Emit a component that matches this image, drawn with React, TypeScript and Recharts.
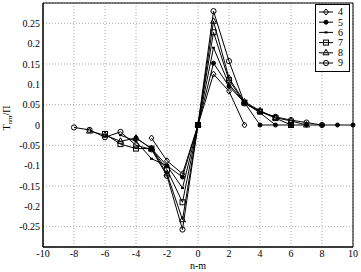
import React from 'react';
import { LineChart, Line, XAxis, YAxis, CartesianGrid, ReferenceArea } from 'recharts';

// n-m positions and T_nm/Pi values per series (n = 4..9)
const X4 = [-3, -2, -1, 0, 1, 2, 3];
const Y4 = [-0.032, -0.088, -0.12, 0, 0.125, 0.083, 0];

const X5 = [-4, -3, -2, -1, 0, 1, 2, 3, 4, 5, 6, 7, 8, 9, 10];
const Y5 = [-0.032, -0.058, -0.1, -0.128, 0, 0.152, 0.095, 0.055, 0, 0, 0, 0, 0, 0, 0];

const X6 = [-5, -4, -3, -2, -1, 0, 1, 2, 3, 4, 5];
const Y6 = [-0.025, -0.04, -0.083, -0.1, -0.155, 0, 0.19, 0.1, 0.055, 0.03, 0];

const X7 = [-6, -5, -4, -3, -2, -1, 0, 1, 2, 3, 4, 5, 6];
const Y7 = [-0.022, -0.047, -0.058, -0.058, -0.11, -0.19, 0, 0.228, 0.11, 0.055, 0.033, 0.017, 0];

const X8 = [-7, -6, -5, -4, -3, -2, -1, 0, 1, 2, 3, 4, 5, 6, 7];
const Y8 = [-0.015, -0.025, -0.04, -0.032, -0.058, -0.12, -0.233, 0, 0.255, 0.115, 0.057, 0.035, 0.018, 0.01, 0];

const X9 = [-8, -7, -6, -5, -4, -3, -2, -1, 0, 1, 2, 3, 4, 5, 6, 7, 8];
const Y9 = [-0.006, -0.012, -0.03, -0.017, -0.05, -0.06, -0.125, -0.257, 0, 0.28, 0.157, 0.053, 0.033, 0.02, 0.012, 0.006, 0];

const X_TICKS = [-10, -8, -6, -4, -2, 0, 2, 4, 6, 8, 10];
const Y_TICKS = [-0.25, -0.2, -0.15, -0.1, -0.05, 0, 0.05, 0.1, 0.15, 0.2, 0.25];

const zip = (xs: number[], ys: number[]) => xs.map((x, i) => ({ x, y: ys[i] }));

const SERIES = [
  { name: '4', marker: 'diamond', data: zip(X4, Y4) },
  { name: '5', marker: 'star', data: zip(X5, Y5) },
  { name: '6', marker: 'point', data: zip(X6, Y6) },
  { name: '7', marker: 'square', data: zip(X7, Y7) },
  { name: '8', marker: 'triangle', data: zip(X8, Y8) },
  { name: '9', marker: 'circle', data: zip(X9, Y9) },
];

const FONT = '"Liberation Serif", "Times New Roman", serif';

const drawMarker = (kind: string, cx: number, cy: number, key?: string) => {
  const s = { stroke: '#000', strokeWidth: 1, fill: 'none' };
  if (kind === 'diamond')
    return <polygon key={key} points={`${cx},${cy - 3} ${cx + 2.5},${cy} ${cx},${cy + 3} ${cx - 2.5},${cy}`} {...s} />;
  if (kind === 'star') return <circle key={key} cx={cx} cy={cy} r={2} fill="#000" stroke="#000" />;
  if (kind === 'point') return <rect key={key} x={cx - 1.5} y={cy - 1} width={3} height={2} fill="#000" />;
  if (kind === 'square') return <rect key={key} x={cx - 2.5} y={cy - 2.5} width={5} height={5} {...s} />;
  if (kind === 'triangle')
    return <polygon key={key} points={`${cx},${cy - 3.5} ${cx + 3},${cy + 2} ${cx - 3},${cy + 2}`} {...s} />;
  return <circle key={key} cx={cx} cy={cy} r={2.6} {...s} />;
};

const LegendBox = () => (
  <svg width={35} height={68} style={{ display: 'block' }}>
    <rect x={0.5} y={0.5} width={34} height={67} fill="#fff" stroke="#000" />
    {SERIES.map((s, i) => {
      const cy = 8 + i * 10.2;
      return (
        <g key={s.name}>
          <line x1={4} x2={18} y1={cy} y2={cy} stroke="#000" />
          {drawMarker(s.marker, 11, cy)}
          <text x={23} y={cy + 3.3} fontSize={10} fontFamily={FONT} fill="#000">
            {s.name}
          </text>
        </g>
      );
    })}
  </svg>
);

const YLabel = () => (
  <text x={10} y={118} transform="rotate(-90, 10, 118)" textAnchor="middle" fontSize={10} fontFamily={FONT} fill="#000">
    T<tspan fontSize={7} dy={2}>nm</tspan>
    <tspan dy={-2}>/Π</tspan>
  </text>
);

const App = () => {
  return (
    <div style={{ position: 'absolute', left: 0, top: 0, width: 361, height: 272, background: '#fff' }}>
      <LineChart width={361} height={272} margin={{ top: 3, right: 8, bottom: 0, left: 0 }}>
        <CartesianGrid stroke="#aaa" strokeDasharray="1 2" />
        <XAxis
          type="number"
          dataKey="x"
          domain={[-10, 10]}
          ticks={X_TICKS}
          height={25}
          tickSize={0}
          tickMargin={3}
          tickLine={false}
          axisLine={{ stroke: '#000' }}
          tick={{ fontSize: 10, fontFamily: FONT, fill: '#000' }}
          label={{ value: 'n-m', position: 'insideBottom', offset: 3, fontSize: 10, fontFamily: FONT, fill: '#000' }}
          allowDuplicatedCategory={false}
        />
        <YAxis
          type="number"
          domain={[-0.3, 0.3]}
          ticks={Y_TICKS}
          width={43}
          tickSize={0}
          tickMargin={3}
          tickLine={false}
          axisLine={{ stroke: '#000' }}
          tick={{ fontSize: 10, fontFamily: FONT, fill: '#000' }}
          label={<YLabel />}
        />
        <ReferenceArea x1={-10} x2={10} y1={-0.3} y2={0.3} fill="none" fillOpacity={0} stroke="#000" strokeWidth={1} />
        {SERIES.map((s) => (
          <Line
            key={s.name}
            data={s.data}
            dataKey="y"
            name={s.name}
            stroke="#000"
            strokeWidth={1}
            isAnimationActive={false}
            dot={(p: any) => drawMarker(s.marker, p.cx, p.cy, `${s.name}-${p.index}`)}
            activeDot={false}
          />
        ))}
      </LineChart>
      <div style={{ position: 'absolute', left: 315, top: 4 }}>
        <LegendBox />
      </div>
    </div>
  );
};

export default App;
